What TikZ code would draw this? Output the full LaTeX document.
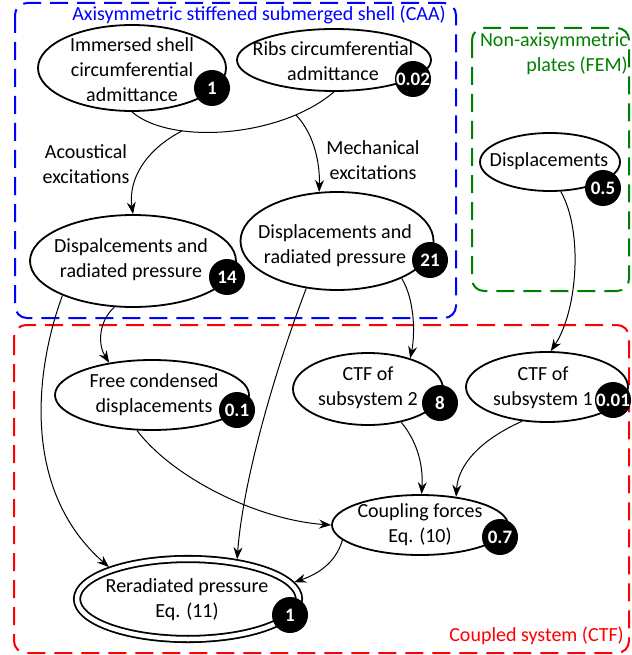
\documentclass[tikz,border=0pt]{standalone}
\usepackage{fontspec}
\setmainfont{Carlito}
\usetikzlibrary{arrows.meta,shapes.geometric}
\definecolor{fgreen}{RGB}{0,128,0}
\begin{document}
\begin{tikzpicture}[x=1pt,y=-1pt,
  every node/.style={font=\fontsize{20}{25}\selectfont},
  ell/.style={draw, ellipse, fill=white, line width=1.8pt, inner sep=0pt, outer sep=0.9pt},
  txt/.style={align=center, inner sep=0pt},
  badge/.style={circle, fill=black, minimum size=36pt, inner sep=0pt, text=white, font=\fontsize{19}{19}\selectfont\bfseries},
  arr/.style={-{Stealth[length=12pt,width=9pt,inset=4pt]}, line width=1pt},
  grp/.style={rounded corners=12pt, line width=2pt, dash pattern=on 18pt off 9pt},
]
\useasboundingbox (0,0) rectangle (631,655);

% group boxes
\draw[grp, blue] (15,3) rectangle (456,318);
\draw[grp, fgreen] (472,28) rectangle (629,291);
\draw[grp, red] (14,325) rectangle (629,653);

\node[text=blue, inner sep=0pt] (tblue) at (259,15) {Axisymmetric stiffened submerged shell (CAA)};
\node[text=fgreen, align=right, anchor=east, inner sep=0pt] (tgreen) at (628,54) {Non-axisymmetric\\plates (FEM)};
\node[text=red, anchor=east, inner sep=0pt] (tred) at (624,636) {Coupled system (CTF)};

% ellipses
\node[ell, minimum width=188pt, minimum height=86pt] (shell) at (132,68) {};
\node[ell, minimum width=194pt, minimum height=62pt] (ribs) at (334,60) {};
\node[ell, minimum width=140pt, minimum height=58pt] (fem) at (550,162) {};
\node[ell, minimum width=206pt, minimum height=92pt] (d14) at (133,261) {};
\node[ell, minimum width=193pt, minimum height=98pt] (d21) at (337,241) {};
\node[ell, minimum width=194pt, minimum height=70pt] (free) at (152,395) {};
\node[ell, minimum width=150pt, minimum height=72pt] (ctf2) at (368,389) {};
\node[ell, minimum width=162pt, minimum height=70pt] (ctf1) at (547,387) {};
\node[ell, minimum width=176pt, minimum height=60pt] (coup) at (420,525) {};
\node[ell, double, double distance=4.5pt, minimum width=222pt, minimum height=80pt, outer sep=4pt] (rerad) at (188,599) {};

% texts
\node[txt] (shellT) at (132,70) {Immersed shell\\circumferential\\admittance};
\node[txt] (ribsT) at (333,61) {Ribs circumferential\\admittance};
\node[txt] (femT) at (549,161) {Displacements};
\node[txt] (d14T) at (131,260) {Dispalcements and\\radiated pressure};
\node[txt] (d21T) at (335,246) {Displacements and\\radiated pressure};
\node[txt] (freeT) at (154,395) {Free condensed\\displacements};
\node[txt] (ctf2T) at (368,388) {CTF of\\subsystem 2};
\node[txt] (ctf1T) at (543,388) {CTF of\\subsystem 1};
\node[txt] (coupT) at (420,525) {Coupling forces\\Eq. (10)};
\node[txt] (reradT) at (187,600) {Reradiated pressure\\Eq. (11)};

\node[txt] (acT) at (86,164) {Acoustical\\excitations};
\node[txt] (mechT) at (373,160) {Mechanical\\excitations};

% badges
\node[badge] (b1) at (212,88) {\makebox[0pt]{1}};
\node[badge] (b2) at (413,79) {\makebox[0pt]{0.02}};
\node[badge] (b3) at (603,188) {\makebox[0pt]{0.5}};
\node[badge] (b4) at (227,277) {\makebox[0pt]{14}};
\node[badge] (b5) at (430,260) {\makebox[0pt]{21}};
\node[badge] (b6) at (237,410) {\makebox[0pt]{0.1}};
\node[badge] (b7) at (440,403) {\makebox[0pt]{8}};
\node[badge] (b8) at (613,400) {\makebox[0pt]{0.01}};
\node[badge] (b9) at (500,537) {\makebox[0pt]{0.7}};
\node[badge] (b10) at (290,615) {\makebox[0pt]{1}};

% connectors
\draw[line width=1pt] (shell.south) .. controls (170,145) and (280,138) .. (ribs.south)
   coordinate[pos=0.3] (ax) coordinate[pos=0.8] (mx);
\draw[arr] (ax) .. controls (145,150) and (128,180) .. (d14.north);
\draw[arr] (mx) .. controls (315,135) and (320,165) .. (d21.110);
\draw[arr] (d14.-112) .. controls (98,322) and (98,345) .. (free.143);
\draw[arr] (d14.206) .. controls (35,370) and (21,490) .. (rerad.158);
\draw[arr] (d21.-123) .. controls (275,370) and (243,480) .. (rerad.39);
\draw[arr] (d21.-30) .. controls (415,300) and (415,335) .. (ctf2.36);
\draw[arr] (fem.-70) .. controls (583,230) and (578,310) .. (ctf1.84);
\draw[arr] (free.-113) .. controls (175,480) and (260,520) .. (coup.180);
\draw[arr] (ctf2.-45) .. controls (420,445) and (423,470) .. (coup.87);
\draw[arr] (ctf1.-126) .. controls (480,440) and (458,465) .. (coup.38);
\draw[arr] (coup.191) .. controls (335,565) and (315,575) .. (rerad.9);
\end{tikzpicture}
\end{document}
